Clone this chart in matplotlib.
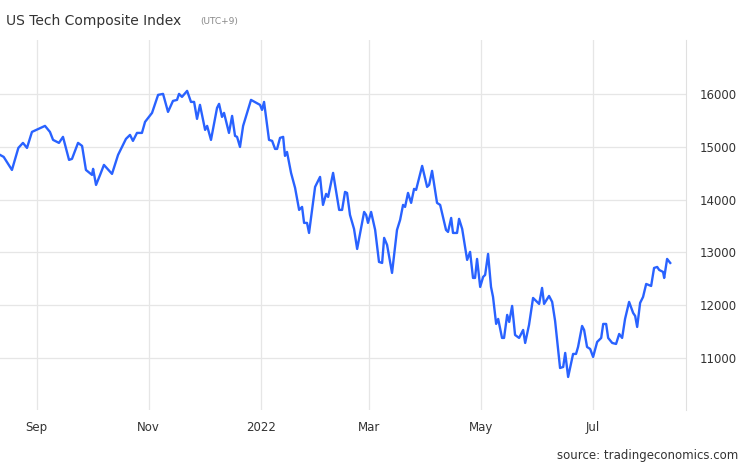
import numpy as np
import pandas as pd
import matplotlib
matplotlib.use("Agg")
import matplotlib.pyplot as plt
import matplotlib.dates as mdates

start = pd.Timestamp("2021-08-12")

# days since start, index value
days = [0, 2, 6.5, 10, 12.5, 14.7, 17.4, 24.5, 27.2, 28.9, 32.1, 34.3, 37.6, 39.2, 42.5, 44.7, 46.8, 50.1,
        50.7, 52.3, 54.5, 56.6, 61, 64.3, 68.6, 70.8, 72.4, 74.6, 77.3, 79, 82.8, 86.1, 88.8, 91.5, 94.2,
        96.4, 97.5, 99.1, 101.9, 104, 105.7, 107.3, 108.9, 111.7, 112.8, 114.9, 118.2, 119.3, 120.9, 122,
        124.7, 126.4, 128, 129.1, 130.7, 132.4, 136.7, 141.6, 142.7, 143.8, 146.5, 148.2, 149.8, 150.9,
        152.5, 154.2, 155.2, 156.3, 158.5, 160.7, 162.9, 164.5, 165.6, 167.2, 168.3, 171.6, 174.3, 175.9,
        177.6, 178.7, 181.4, 184.7, 186.3, 187.9, 189, 190.6, 192.8, 194.5,
        198.3, 199.4, 200.4, 202.1, 204.3, 206.4, 208.1, 209.2, 210.8, 213.5, 216.2, 217.9, 219.5, 220.6,
        222.2, 223.9, 225.5, 226.6, 229.9, 232.6, 233.7, 235.3, 238, 239.7, 242.9, 244, 245.7, 246.7,
        248.9, 250, 251.7, 254.4, 256, 257.6, 258.7, 259.8, 261.5, 263.1, 264.2, 265.8, 267.4, 268.5,
        270.2, 271.3, 273.4, 274.5, 276.2, 277.3, 278.9, 280.5, 282.7, 284.9, 286, 288.1, 290.3, 293.6,
        295.2, 296.3, 299, 300.7, 302.3, 305, 306.7, 307.8, 309.4, 312.1, 313.7, 314.8, 317, 318.1,
        319.7, 321.4, 323, 325.2, 327.4, 328.5, 330.1, 331.2, 333.4, 335.5, 337.2, 338.8, 340.4, 342.6,
        344.8, 345.9, 347, 348.6, 350.2, 351.9, 354.6, 356.2, 357.9, 359, 361.1, 361.7, 363.3, 365]
values = [14845, 14807, 14560, 14977, 15072, 14977, 15280, 15394, 15280, 15129, 15072, 15186, 14750, 14769,
          15072, 15015, 14560, 14466, 14580, 14276, 14466, 14655, 14485, 14845, 15148, 15223, 15110, 15261,
          15261, 15470, 15640, 15981, 16000, 15659, 15867, 15886, 16000, 15943, 16057, 15848, 15848, 15527,
          15792, 15318, 15394, 15129, 15735, 15811, 15564, 15640, 15261, 15583, 15205, 15186, 14996, 15394,
          15886, 15792, 15697, 15848, 15129, 15110, 14958, 14958, 15167, 15186, 14826, 14901, 14504, 14220,
          13803, 13860, 13557, 13557, 13367, 14239, 14428, 13898, 14106, 14049, 14504, 13803, 13803, 14144,
          14125, 13708, 13443, 13064,
          13765, 13708, 13557, 13765, 13424, 12818, 12799, 13273, 13140, 12610, 13424, 13614, 13898, 13860,
          14125, 13936, 14201, 14182, 14636, 14239, 14276, 14542, 13936, 13898, 13424, 13386, 13651, 13367,
          13367, 13633, 13443, 12856, 13008, 12515, 12515, 12875, 12345, 12534, 12572, 12970, 12345, 12155,
          11644, 11739, 11379, 11379, 11815, 11682, 11985, 11435, 11379, 11530, 11284, 11625, 12136, 12023,
          12326, 12023, 12174, 12061, 11701, 10810, 10829, 11095, 10640, 11076, 11076, 11208, 11606, 11530,
          11208, 11170, 11019, 11303, 11379, 11644, 11644, 11379, 11284, 11265, 11454, 11379, 11739, 12061,
          11852, 11795, 11587, 12042, 12155, 12401, 12363, 12704, 12723, 12666, 12629, 12515, 12875, 12799]

month_ticks = ["2021-09-01", "2021-11-01", "2022-01-01", "2022-03-01", "2022-05-01", "2022-07-01"]
month_labels = ["Sep", "Nov", "2022", "Mar", "May", "Jul"]
y_ticks = [11000, 12000, 13000, 14000, 15000, 16000]

dates = [start + pd.Timedelta(days=d) for d in days]

fig = plt.figure(figsize=(7.46, 4.68), dpi=100)
ax = fig.add_axes([0, 0.124, 0.9196, 0.7905])
ax.plot(dates, values, color="#2962ff", lw=1.7)

ax.set_xlim(start, start + pd.Timedelta(days=373.6))
ax.set_ylim(10015, 17020)
ax.set_xticks([pd.Timestamp(t) for t in month_ticks])
ax.set_xticklabels(month_labels)
ax.set_yticks(y_ticks)
ax.yaxis.tick_right()
ax.tick_params(axis="both", length=0, labelsize=8.5, colors="#333333")
ax.tick_params(axis="y", pad=10)
ax.tick_params(axis="x", pad=8)
ax.grid(True, color="#e6e6e6", lw=0.9)
for s in ["left", "top", "bottom"]:
    ax.spines[s].set_visible(False)
ax.spines["right"].set_color("#e0e0e0")

fig.text(0.008, 0.955, "US Tech Composite Index", fontsize=10, color="#333333", va="center")
fig.text(0.268, 0.953, "(UTC+9)", fontsize=6.5, color="#888888", va="center")
fig.text(0.99, 0.02, "source: tradingeconomics.com", fontsize=8.5, color="#333333", ha="right")

fig.savefig("out.png", dpi=100)
